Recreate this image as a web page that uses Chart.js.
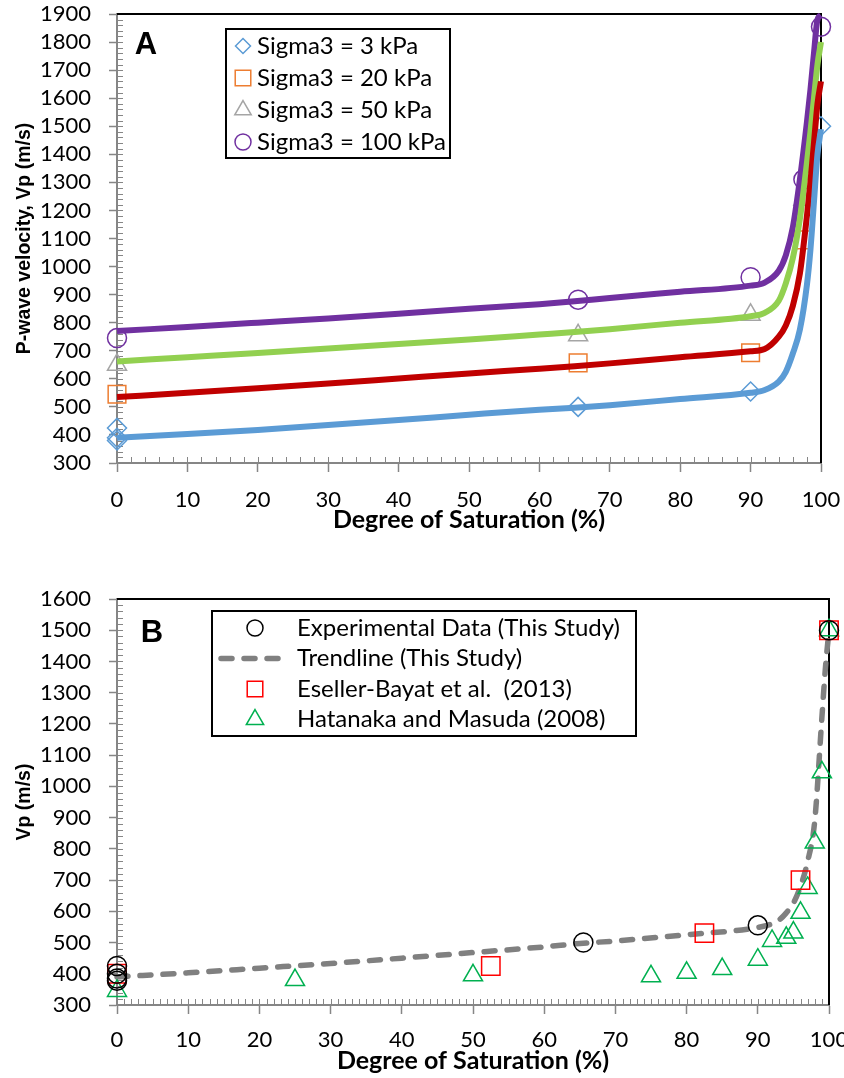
<!DOCTYPE html>
<html>
<head>
<meta charset="utf-8">
<script src="https://cdn.jsdelivr.net/npm/chart.js@4.4.1/dist/chart.umd.min.js"></script>
<style>
  html, body { margin: 0; padding: 0; background: #fff; overflow: hidden; }
  canvas { display: block; }
</style>
</head>
<body>
<canvas id="chartA" width="880" height="540"></canvas>
<canvas id="chartB" width="880" height="538"></canvas>
<script>
// ---- Panel A: fitted curves (saturation %, Vp m/s)
const satFit = [0, 10, 20, 30, 40, 50, 60, 65, 70, 80, 90, 92, 94, 95, 96, 97, 98, 98.5, 99, 99.5, 100];
const fit3 = [390, 403, 418, 435, 453, 472, 490, 497, 506, 528, 550, 560, 590, 625, 690, 775, 935, 1060, 1230, 1400, 1490];
const fit20 = [535, 550, 566, 583, 601, 619, 636, 645, 655, 677, 698, 706, 750, 790, 860, 975, 1180, 1300, 1440, 1580, 1660];
const fit50 = [662, 677, 692, 708, 724, 740, 758, 767, 777, 800, 823, 835, 878, 940, 1030, 1170, 1370, 1480, 1600, 1720, 1800];
const fit100 = [770, 785, 800, 815, 832, 850, 866, 876, 888, 910, 932, 943, 985, 1040, 1140, 1310, 1515, 1630, 1760, 1880, 1895];

// ---- Panel A: measured points
const sat3 = [0, 0, 0, 65.5, 90, 100];
const vp3 = [425, 390, 380, 500, 555, 1500];
const sat20 = [0, 65.5, 90, 97.5];
const vp20 = [545, 657, 693, 1095];
const sat50 = [0, 65.5, 90, 97.5];
const vp50 = [650, 755, 828, 1238];
const sat100 = [0, 65.5, 90, 97.5, 100];
const vp100 = [745, 882, 962, 1310, 1855];

// ---- Panel B
const expSat = [0, 0, 0, 0, 65.5, 90, 100];
const expVp = [425, 400, 385, 378, 500, 555, 1500];
const trendSat = [0, 10, 20, 30, 40, 50, 60, 65, 70, 80, 90, 92, 93, 94, 95, 96, 97, 98, 99, 99.5, 100];
const trendVp = [390, 403, 418, 433, 450, 468, 486, 497, 505, 525, 548, 560, 572, 595, 626, 680, 760, 890, 1220, 1380, 1500];
const eseSat = [0, 52.5, 82.5, 96, 100];
const eseVp = [400, 425, 530, 700, 1500];
const hatSat = [0, 25, 50, 75, 80, 85, 90, 92, 94, 95, 96, 97, 98, 99, 100];
const hatVp = [345, 380, 395, 392, 403, 415, 445, 505, 515, 532, 595, 675, 820, 1045, 1500];

const xy = (xs, ys) => xs.map((x, i) => ({ x: x, y: ys[i] }));

// small inward ticks between the major ones
const minorTicks = {
    id: 'minorTicks',
    beforeDatasetsDraw(chart, args, opts) {
        const { ctx, chartArea, scales } = chart;
        ctx.save();
        ctx.strokeStyle = '#868686';
        ctx.lineWidth = 1;
        ctx.beginPath();
        for (let v = scales.x.min; v <= scales.x.max + 1e-6; v += opts.x) {
            const px = Math.round(scales.x.getPixelForValue(v)) + 0.5;
            ctx.moveTo(px, chartArea.bottom);
            ctx.lineTo(px, chartArea.bottom - 6);
        }
        for (let v = scales.y.min; v <= scales.y.max + 1e-6; v += opts.y) {
            const py = Math.round(scales.y.getPixelForValue(v)) + 0.5;
            ctx.moveTo(chartArea.left, py);
            ctx.lineTo(chartArea.left + 6, py);
        }
        ctx.stroke();
        ctx.restore();
    }
};

// black top and right border of the plot
const frame = {
    id: 'frame',
    beforeDatasetsDraw(chart) {
        const { ctx, chartArea } = chart;
        ctx.save();
        ctx.strokeStyle = '#000';
        ctx.lineWidth = 2;
        ctx.beginPath();
        ctx.moveTo(chartArea.left, chartArea.top);
        ctx.lineTo(chartArea.right, chartArea.top);
        ctx.lineTo(chartArea.right, chartArea.bottom);
        ctx.stroke();
        ctx.restore();
    }
};

// boxed legend inside the plot
const boxLegend = {
    id: 'boxLegend',
    afterDraw(chart, args, o) {
        const ctx = chart.ctx;
        ctx.save();
        ctx.fillStyle = '#fff';
        ctx.fillRect(o.left, o.top, o.width, o.height);
        ctx.strokeStyle = '#000';
        ctx.lineWidth = 2;
        ctx.strokeRect(o.left, o.top, o.width, o.height);
        ctx.font = o.fontSize + 'px Lato';
        ctx.textBaseline = 'middle';
        ctx.textAlign = 'left';
        chart.data.datasets.filter(d => d.label).forEach((d, i) => {
            const y = o.top + o.firstRow + i * o.rowGap;
            if (d.showLine) {
                ctx.save();
                ctx.strokeStyle = d.borderColor;
                ctx.lineWidth = d.borderWidth;
                ctx.lineCap = 'round';
                ctx.setLineDash(d.borderDash || []);
                ctx.beginPath();
                ctx.moveTo(o.lineFrom, y);
                ctx.lineTo(o.lineTo, y);
                ctx.stroke();
                ctx.restore();
            } else {
                ctx.save();
                ctx.strokeStyle = d.pointBorderColor;
                ctx.fillStyle = 'rgba(0,0,0,0)';
                ctx.lineWidth = d.pointBorderWidth;
                Chart.helpers.drawPoint(ctx, {
                    pointStyle: d.pointStyle, rotation: 0,
                    radius: d.legendRadius, borderWidth: d.pointBorderWidth
                }, o.markerX, y);
                ctx.restore();
            }
            ctx.fillStyle = '#000';
            ctx.fillText(d.label, o.textX, y);
        });
        ctx.restore();
    }
};

const panelLabel = {
    id: 'panelLabel',
    afterDraw(chart, args, o) {
        const ctx = chart.ctx;
        ctx.save();
        ctx.font = 'bold 31px "Liberation Sans", Arial, sans-serif';
        ctx.fillStyle = '#000';
        ctx.textAlign = 'center';
        ctx.textBaseline = 'alphabetic';
        ctx.fillText(o.text, o.x, o.y);
        ctx.restore();
    }
};

const tickFont = { family: 'Lato', size: 22 };

function makeOptions(p) {
    return {
        responsive: false,
        animation: false,
        devicePixelRatio: 1,
        events: [],
        layout: { autoPadding: false, padding: { left: 0, top: p.top, right: p.right, bottom: 0 } },
        plugins: {
            legend: { display: false },
            tooltip: { enabled: false },
            minorTicks: { x: p.xMinor, y: 20 },
            boxLegend: p.legend,
            panelLabel: p.panel
        },
        scales: {
            x: {
                type: 'linear', min: 0, max: 100,
                afterFit: s => { s.height = p.xHeight; s.paddingLeft = 0; s.paddingRight = 0; },
                ticks: { stepSize: 10, autoSkip: false, color: '#000', font: tickFont, padding: p.xPad,
                         maxRotation: 0, callback: v => String(v) },
                grid: { drawOnChartArea: false, tickLength: 9, tickColor: '#868686', tickWidth: 1.5 },
                border: { color: '#868686', width: 2 },
                title: {
                    display: true, text: 'Degree of Saturation (%)', color: '#000',
                    font: { family: 'Lato', size: 25, weight: 'bold' },
                    padding: { top: 0, bottom: p.xTitlePad }
                }
            },
            y: {
                type: 'linear', min: p.yMin, max: p.yMax,
                afterFit: s => { s.width = 117; s.paddingTop = 0; s.paddingBottom = 0; },
                ticks: { stepSize: 100, autoSkip: false, color: '#000', font: tickFont, padding: 18,
                         callback: v => String(v) },
                grid: { drawOnChartArea: false, tickLength: 8, tickColor: '#868686', tickWidth: 1.5 },
                border: { color: '#868686', width: 2 },
                title: {
                    display: true, text: p.yTitle, color: '#000',
                    font: { family: '"Liberation Sans", Arial, sans-serif', size: 19.5, weight: 'bold' },
                    padding: { top: 13, bottom: 0 }
                }
            }
        }
    };
}

function curve(xs, ys, color) {
    return {
        data: xy(xs, ys), showLine: true, borderColor: color, borderWidth: 6,
        pointRadius: 0, cubicInterpolationMode: 'monotone', order: 0, clip: false
    };
}

function markers(label, xs, ys, style, color, r, lr, order) {
    return {
        label: label, data: xy(xs, ys), showLine: false,
        pointStyle: style, pointRadius: r, legendRadius: lr,
        pointBorderColor: color, pointBackgroundColor: 'rgba(0,0,0,0)',
        pointBorderWidth: 1.5, borderColor: color, order: order, clip: false
    };
}

new Chart(document.getElementById('chartA'), {
    type: 'scatter',
    data: {
        datasets: [
            markers('Sigma3 = 3 kPa', sat3, vp3, 'rectRot', '#5B9BD5', 9.5, 7.5, 1),
            markers('Sigma3 = 20 kPa', sat20, vp20, 'rect', '#ED7D31', 12.5, 11, 1),
            markers('Sigma3 = 50 kPa', sat50, vp50, 'triangle', '#A5A5A5', 11, 9.5, 1),
            markers('Sigma3 = 100 kPa', sat100, vp100, 'circle', '#7030A0', 9.5, 8, 1),
            curve(satFit, fit3, '#5B9BD5'),
            curve(satFit, fit20, '#C00000'),
            curve(satFit, fit50, '#92D050'),
            curve(satFit, fit100, '#7030A0')
        ]
    },
    options: makeOptions({
        top: 14, right: 59, xHeight: 77, xPad: 15, xTitlePad: 5, xMinor: 2,
        yMin: 300, yMax: 1900, yTitle: 'P-wave velocity, Vp (m/s)',
        legend: { left: 226, top: 29, width: 224, height: 129, firstRow: 17, rowGap: 32,
                  markerX: 243, textX: 257, fontSize: 24 },
        panel: { text: 'A', x: 146, y: 54 }
    }),
    plugins: [minorTicks, frame, boxLegend, panelLabel]
});

const trendSet = {
    label: 'Trendline (This Study)', data: xy(trendSat, trendVp), showLine: true,
    borderColor: '#808080', borderWidth: 5.5, borderDash: [11, 12], borderCapStyle: 'round',
    pointRadius: 0, cubicInterpolationMode: 'monotone', order: 3, clip: false
};

new Chart(document.getElementById('chartB'), {
    type: 'scatter',
    data: {
        datasets: [
            markers('Experimental Data (This Study)', expSat, expVp, 'circle', '#000000', 9.5, 8, 0),
            trendSet,
            markers('Eseller-Bayat et al.  (2013)', eseSat, eseVp, 'rect', '#FF0000', 13, 11, 1),
            markers('Hatanaka and Masuda (2008)', hatSat, hatVp, 'triangle', '#00B050', 11, 10, 2)
        ]
    },
    options: makeOptions({
        top: 59, right: 51, xHeight: 73, xPad: 13, xTitlePad: 2, xMinor: 1,
        yMin: 300, yMax: 1600, yTitle: 'Vp (m/s)',
        legend: { left: 212, top: 71, width: 424, height: 125, firstRow: 17, rowGap: 30.5,
                  markerX: 255, lineFrom: 221, lineTo: 284, textX: 297, fontSize: 24 },
        panel: { text: 'B', x: 152, y: 102 }
    }),
    plugins: [minorTicks, frame, boxLegend, panelLabel]
});
</script>
</body>
</html>
